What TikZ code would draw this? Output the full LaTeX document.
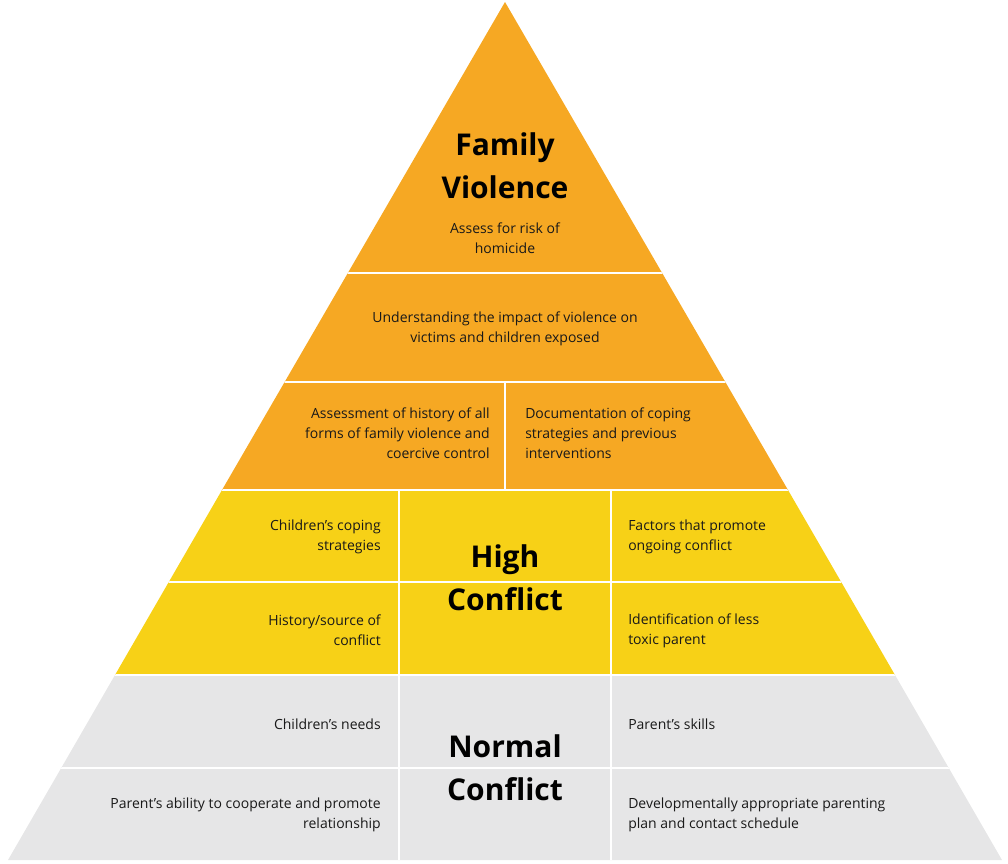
\documentclass[tikz,border=0pt]{standalone}
\usepackage{fontspec}
\setmainfont{Open Sans}
\definecolor{fvor}{HTML}{F6A823}
\definecolor{hcye}{HTML}{F7D117}
\definecolor{ncgr}{HTML}{E6E6E7}
\begin{document}
\begin{tikzpicture}[x=0.75pt,y=-0.75pt,
  body/.style={font=\fontsize{10.5}{15}\selectfont,inner sep=0pt,text=black!90},
  bodyR/.style={body,anchor=east,align=right},
  bodyL/.style={body,anchor=west,align=left},
  bodyC/.style={body,anchor=center,align=center},
  title/.style={font=\fontsize{22.5}{32}\selectfont\bfseries,align=center,inner sep=0pt},
  sep/.style={white,line width=2.2pt}]
\useasboundingbox (0,0) rectangle (1008,864);
\fill[fvor] (505,2) -- (788,490) -- (222,490) -- cycle;
\fill[hcye] (222,490) -- (788,490) -- (895,675) -- (115,675) -- cycle;
\fill[ncgr] (115,675) -- (895,675) -- (1002,860) -- (8,860) -- cycle;
\begin{scope}
\clip (505,2) -- (1002,860) -- (8,860) -- cycle;
\foreach \y in {273,382,490,582,675,768} \draw[sep] (0,\y) -- (1008,\y);
\draw[sep] (505,382) -- (505,490);
\draw[sep] (399,490) -- (399,862);
\draw[sep] (611,490) -- (611,862);
\end{scope}
\node[title] (fv) at (505,166) {Family\\Violence};
\node[bodyC] (t1) at (505,238.5) {Assess for risk of\\homicide};
\node[bodyC] (t2) at (505,328.5) {Understanding the impact of violence on\\victims and children exposed};
\node[bodyR] (t3) at (490,433.5) {Assessment of history of all\\forms of family violence and\\coercive control};
\node[bodyL] (t4) at (525,433.5) {Documentation of coping\\strategies and previous\\interventions};
\node[title] (hc) at (505,578) {High\\Conflict};
\node[bodyR] (t5) at (381,537) {Children’s coping\\strategies};
\node[bodyL] (t6) at (628,537) {Factors that promote\\ongoing conflict};
\node[bodyR] (t7) at (381,630.5) {History/source of\\conflict};
\node[bodyL] (t8) at (628,630.5) {Identification of less\\toxic parent};
\node[title] (nc) at (505,768) {Normal\\Conflict};
\node[bodyR] (t9) at (381,724) {Children’s needs};
\node[bodyL] (t10) at (628,724) {Parent’s skills};
\node[bodyR] (t11) at (381,815) {Parent’s ability to cooperate and promote\\relationship};
\node[bodyL] (t12) at (628,815) {Developmentally appropriate parenting\\plan and contact schedule};
\end{tikzpicture}
\end{document}
